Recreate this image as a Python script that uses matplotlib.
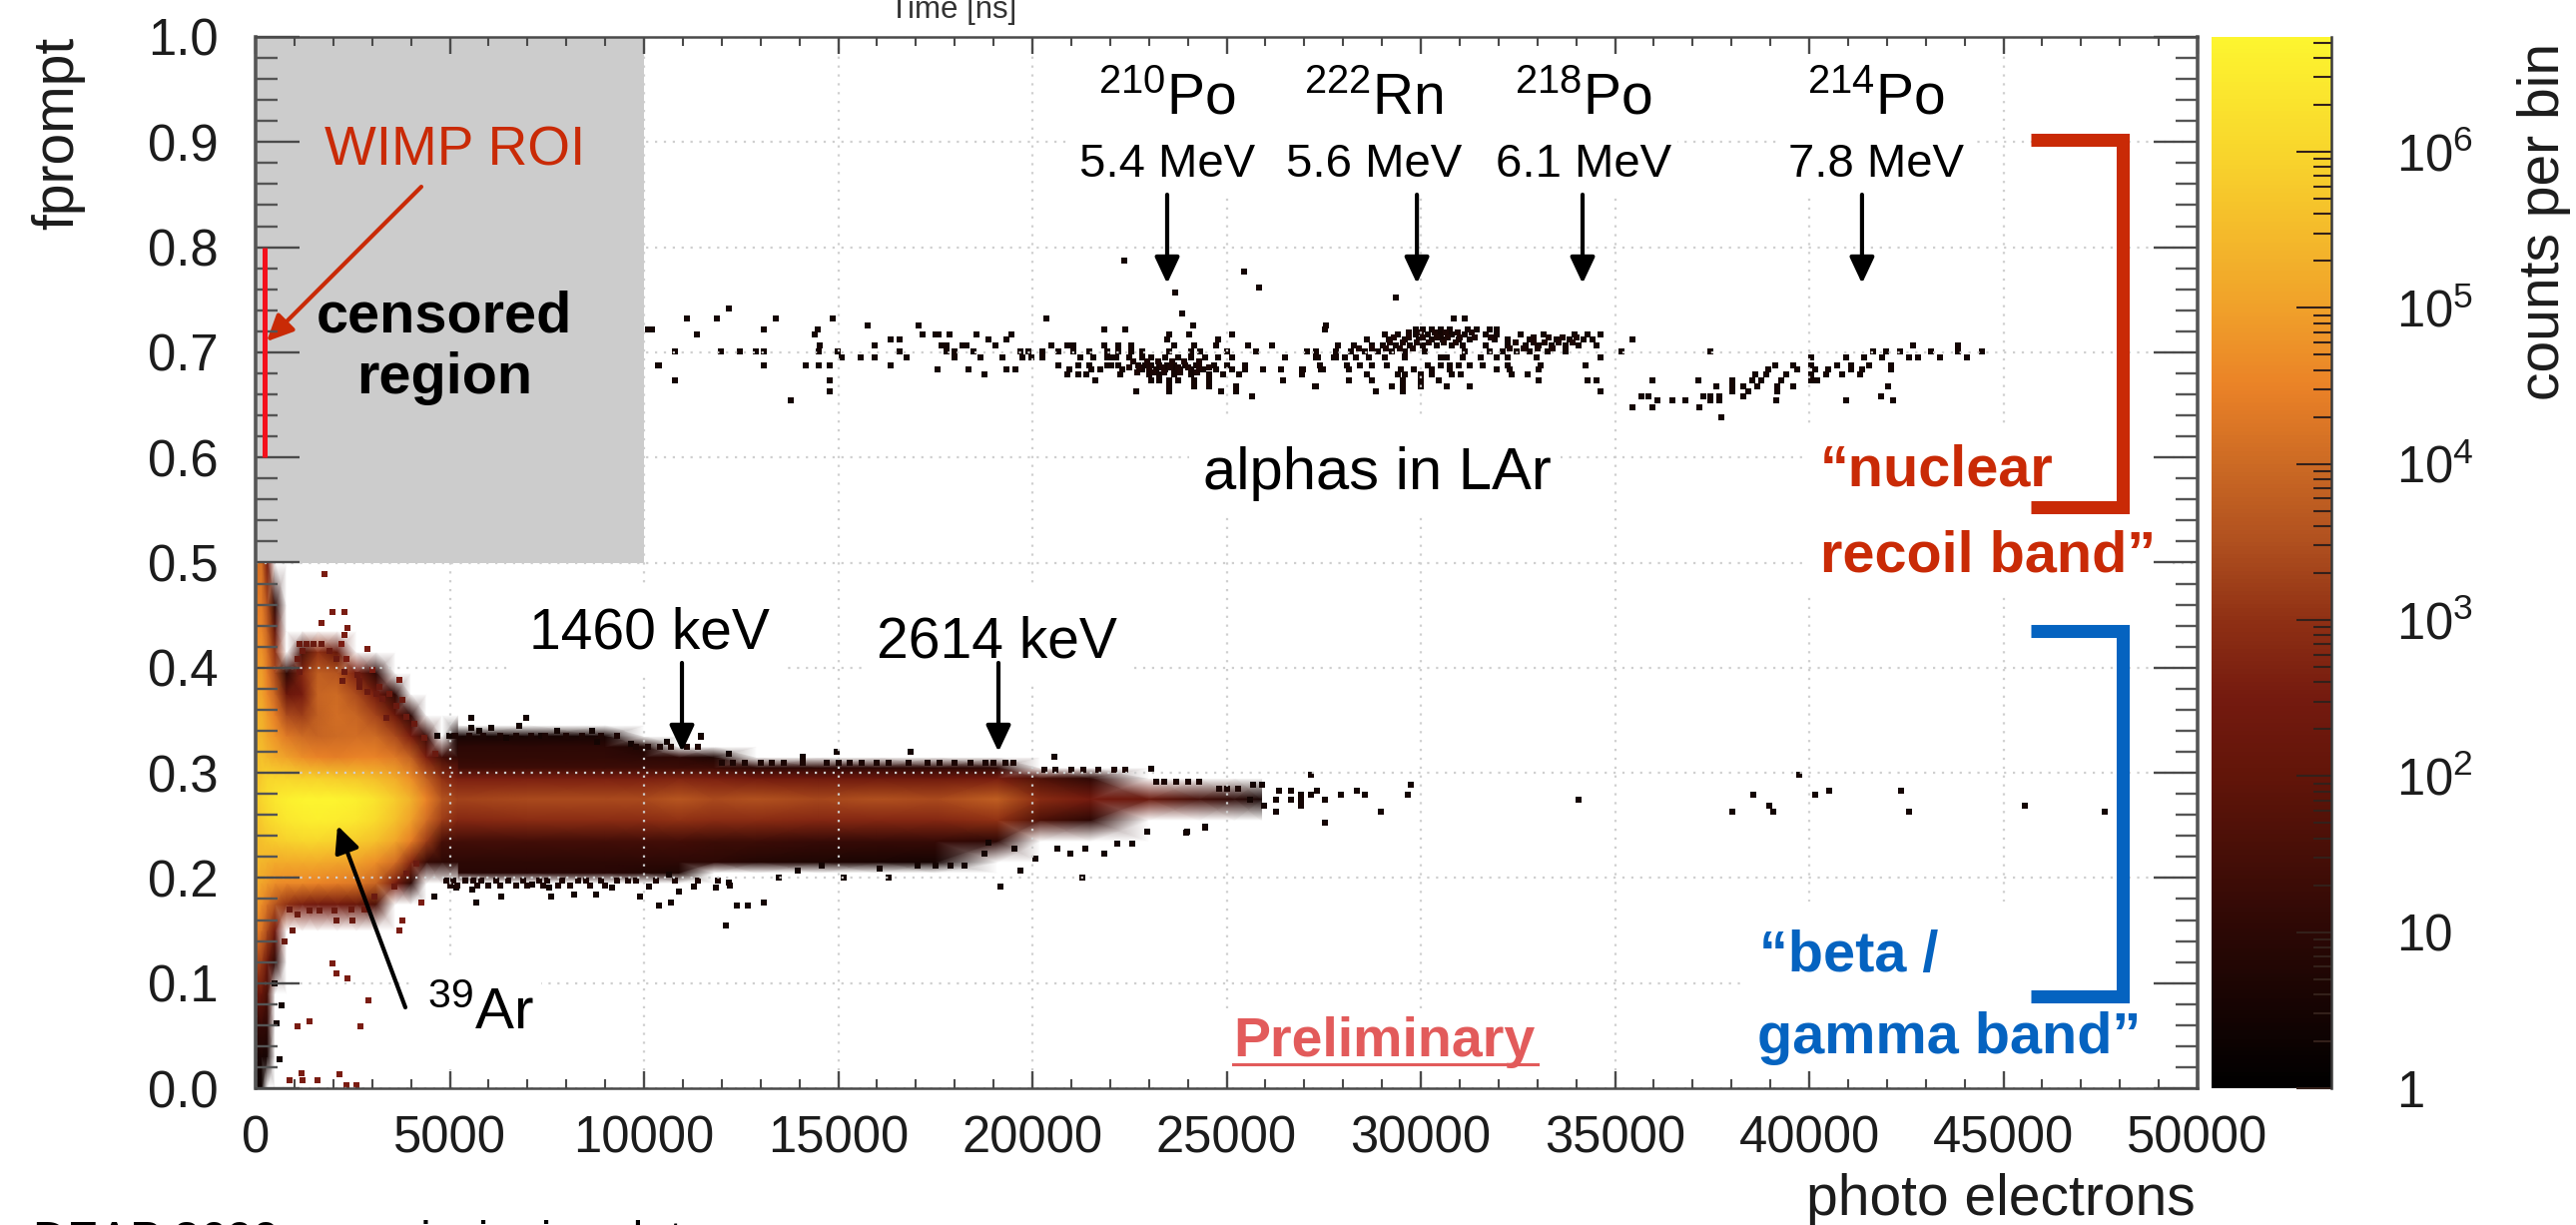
import numpy as np
import matplotlib
matplotlib.use("Agg")
import matplotlib.pyplot as plt
from matplotlib.colors import LinearSegmentedColormap, LogNorm
from matplotlib.cm import ScalarMappable
from matplotlib.ticker import LogLocator, MultipleLocator, NullFormatter

N = np.nan

# log10(counts per bin) on a coarse grid: the 39Ar blob
grid_pe_low = [0, 150, 300, 500, 800, 1200, 1600, 2100, 2600, 3100, 3600, 4000, 4400, 4800, 5200]
grid_fprompt_low = [0, .03, .06, .09, .12, .15, .175, .195, .215, .235, .255, .275, .295, .315, .335, .355, .375, .395, .415, .435, .46, .5]
log_counts_low = [
    [.3, .3, N, N, N, N, N, N, N, N, N, N, N, N, N],
    [.5, .6, .5, N, N, N, N, N, N, N, N, N, N, N, N],
    [1.0, 1.2, 1.0, N, N, N, N, N, N, N, N, N, N, N, N],
    [2.2, 2.2, 1.5, N, N, N, N, N, N, N, N, N, N, N, N],
    [3.4, 3.2, 2.2, 1.0, N, N, N, N, N, N, N, N, N, N, N],
    [4.4, 4.2, 3.4, 2.4, N, N, N, N, N, N, N, N, N, N, N],
    [4.9, 4.7, 4.2, 3.6, 3.0, 2.6, 2.4, 2.4, 2.2, 1.6, N, N, N, N, N],
    [5.2, 5.1, 4.9, 4.7, 4.6, 4.6, 4.5, 4.4, 4.3, 3.9, 2.5, 1.0, N, N, N],
    [5.4, 5.4, 5.3, 5.2, 5.2, 5.2, 5.2, 5.1, 5.0, 4.7, 4.1, 2.8, 1.2, 1.0, 1.0],
    [5.5, 5.6, 5.7, 5.8, 5.9, 6.0, 6.0, 5.9, 5.8, 5.6, 5.1, 4.4, 3.2, 1.5, 1.4],
    [5.6, 5.8, 6.0, 6.2, 6.4, 6.5, 6.6, 6.5, 6.4, 6.1, 5.6, 5.0, 4.1, 3.2, 2.8],
    [5.7, 6.0, 6.2, 6.4, 6.6, 6.7, 6.7, 6.7, 6.6, 6.3, 5.8, 5.3, 4.5, 3.6, 3.3],
    [5.6, 5.8, 6.0, 6.0, 6.0, 5.9, 5.9, 5.8, 5.7, 5.5, 5.2, 4.7, 3.8, 3.0, 2.6],
    [5.5, 5.6, 5.4, 5.2, 5.0, 4.7, 4.5, 4.4, 4.5, 4.5, 4.3, 3.8, 2.6, 1.4, 1.1],
    [5.3, 5.4, 5.1, 4.8, 4.3, 4.0, 3.9, 4.0, 4.1, 4.0, 3.4, 2.5, 1.2, N, .5],
    [5.2, 5.3, 4.9, 4.4, 3.4, 3.2, 3.8, 4.1, 3.9, 3.3, 2.2, 1.0, N, N, N],
    [5.0, 5.1, 4.6, 3.9, 2.2, 2.5, 3.9, 4.0, 3.4, 2.4, 1.0, N, N, N, N],
    [4.8, 5.0, 4.4, 3.4, 1.0, 2.8, 3.8, 3.6, 2.6, 1.0, N, N, N, N, N],
    [4.6, 4.8, 4.2, 3.0, N, 1.5, 3.0, 2.0, N, N, N, N, N, N, N],
    [4.5, 4.6, 3.9, 2.0, N, N, N, N, N, N, N, N, N, N, N],
    [4.3, 4.4, 3.5, 1.0, N, N, N, N, N, N, N, N, N, N, N],
    [4.0, 4.2, 2.5, N, N, N, N, N, N, N, N, N, N, N, N],
]

# same for the gamma band above 5000 photo electrons
grid_pe_high = [5200, 7000, 9000, 10000, 10900, 11800, 12900, 14500, 16000, 17500, 19100, 20200, 21500, 23000, 24300, 25200, 25900]
grid_fprompt_high = [.195, .205, .215, .235, .255, .275, .295, .305, .315, .325, .335, .345]
log_counts_high = [
    [N, N, N, N, N, N, N, N, N, N, N, N, N, N, N, N, N],
    [.9, .9, .9, .8, .7, N, N, N, N, N, N, N, N, N, N, N, N],
    [1.0, 1.0, 1.0, 1.0, 1.0, 1.0, .8, .7, .6, .5, N, N, N, N, N, N, N],
    [1.4, 1.4, 1.4, 1.4, 1.4, 1.3, 1.3, 1.2, 1.2, 1.2, 1.0, N, N, N, N, N, N],
    [2.8, 2.9, 2.9, 2.9, 3.0, 2.9, 2.9, 2.8, 2.8, 2.8, 3.0, 1.6, 1.0, N, N, N, N],
    [3.3, 3.4, 3.4, 3.4, 3.65, 3.4, 3.55, 3.35, 3.5, 3.4, 3.8, 2.9, 2.5, 2.2, 1.4, 1.0, .5],
    [2.6, 2.6, 2.6, 2.6, 2.7, 2.6, 2.4, 2.3, 2.3, 2.3, 2.5, 1.6, 1.0, N, N, N, N],
    [1.3, 1.3, 1.3, 1.3, 1.3, 1.3, 1.0, 1.0, 1.0, 1.0, 1.0, N, N, N, N, N, N],
    [1.1, 1.1, 1.1, 1.0, 1.0, .7, N, N, N, N, N, N, N, N, N, N, N],
    [1.0, 1.0, 1.0, .7, N, N, N, N, N, N, N, N, N, N, N, N, N],
    [.5, .5, .5, N, N, N, N, N, N, N, N, N, N, N, N, N, N],
    [N, N, N, N, N, N, N, N, N, N, N, N, N, N, N, N, N],
]

# single filled bins: alpha band, row by row in fprompt
alpha_rows = [.787, .777, .762, .757, .752, .742, .737, .732, .726, .722, .717, .712, .707, .701, .695, .688, .684, .679, .673, .668, .663, .658, .654, .648, .638]
alpha_pe = [
    [22370], [25450], [25840], [23680], [29360], [12190], [23860],
    [11100, 11880, 13400, 14860, 20370, 30850, 31140],
    [15760, 17065, 24130, 27550],
    [10100, 10215, 13080, 14480, 21860, 22380, 27540, 29880, 30050, 30280, 30510, 30740, 31200, 31430, 31770, 31950],
    [11360, 14400, 17160, 17500, 17580, 17870, 18570, 19450, 23530, 24040, 25130, 29080, 29420, 29880, 30170, 30510, 30800, 31140, 31660, 31950, 32580, 33150, 33950, 34300, 34640],
    [16350, 16580, 18880, 19340, 23470, 24790, 28620, 29190, 29590, 29940, 30280, 30570, 30970, 31260, 31890, 32230, 32810, 33490, 33840, 34180, 34410, 35445],
    [14520, 15950, 17670, 17790, 18190, 18300, 19050, 20490, 20890, 21060, 21860, 22210, 22550, 23640, 24160, 24730, 25540, 26170, 27870, 28270, 28730, 29020, 29360, 29710, 30050, 30400, 30800, 31090, 31660, 32230, 32690, 33030, 33380, 33720, 34070, 34530, 42680, 43820],
    [10790, 11970, 12480, 12880, 13080, 14500, 14980, 16580, 17790, 17985, 18480, 19680, 19910, 20260, 20660, 21060, 21460, 21920, 22210, 22550, 22840, 23530, 24100, 24330, 25020, 25760, 27080, 27300, 27810, 28210, 28560, 28900, 29250, 29590, 30110, 31140, 31770, 32120, 32460, 32810, 33260, 33720, 35160, 37450, 41640, 41990, 42330, 43130, 43820, 44450],
    [15090, 15590, 15950, 16760, 17985, 18670, 19220, 19740, 19970, 20260, 21230, 21580, 21920, 22040, 22150, 22490, 22840, 23070, 23410, 23760, 24100, 24450, 24790, 25130, 26510, 27310, 27350, 27770, 27810, 28040, 28330, 28670, 29080, 29590, 30510, 30680, 31090, 31540, 31950, 32230, 32980, 34640, 40040, 40950, 41410, 41870, 42560, 42790, 43360, 44050],
    [10390, 10360, 13080, 14175, 14500, 14770, 16350, 20660, 21170, 21460, 21920, 22040, 22210, 22720, 22900, 23070, 23260, 23470, 23640, 23930, 24220, 24670, 25020, 25480, 27410, 28100, 28440, 28730, 29130, 30170, 30510, 30740, 30970, 31260, 31600, 32230, 33090, 34240, 39120, 39580, 40040, 40720, 41070, 41530, 42100],
    [17560, 18360, 19340, 19570, 20940, 21520, 21750, 22320, 22840, 23000, 23180, 23410, 23640, 23800, 24100, 24390, 24730, 25130, 25480, 25940, 26400, 26970, 26950, 27430, 27470, 28160, 29480, 29820, 30280, 30740, 31950, 32290, 33030, 38950, 39690, 40150, 40500, 41070, 41360, 42100],
    [18770, 20890, 21170, 21400, 22260, 23000, 23260, 23640, 24100, 24560, 24900, 25310, 26950, 28620, 29420, 29590, 29990, 30280, 30800, 31030, 32350, 32750, 38600, 38890, 39400, 40040, 40440, 40840, 41300],
    [10790, 14770, 21630, 23070, 23260, 23530, 23760, 24160, 24560, 26450, 28160, 28730, 29540, 29990, 30450, 33030, 34300, 34530, 35960, 37140, 38030, 38540, 38770, 39290, 40040, 40210],
    [23530, 24160, 24560, 25250, 27310, 27270, 29250, 29540, 29990, 30680, 31260, 37620, 38030, 38310, 38660, 39180, 39580, 42040],
    [14770, 22670, 23530, 24850, 25250, 28850, 29540, 34640, 38030, 38430, 39180],
    [25650, 35670, 35850, 37280, 37450, 37680, 38310, 41850],
    [13770, 36080, 36480, 36820, 37450, 37680, 39140, 40950, 42160],
    [35445, 35960, 37170],
    [37740],
]

# filled-in rows where the alpha bins merge into solid patches
dense_rows = [.719, .714, .709, .704, .691, .686, .681]
dense_pe = [
    [29700, 30000, 30350, 30650, 30950, 31300],
    [29300, 29700, 30050, 30400, 30700, 31000, 31400, 31800, 32900, 33300, 33650, 34000],
    [29200, 29550, 29900, 30200, 30600, 30900, 32450, 32900, 33200, 33550, 33900],
    [28400, 28750, 29100, 29450, 29800, 32300, 32650, 33000, 33400],
    [22600, 22950, 23250, 23600, 23900, 24300],
    [22500, 22750, 23000, 23350, 23550, 23750, 24000, 24300, 24550],
    [22700, 23100, 23400, 23800, 24250],
]

# single filled bins around the gamma band
gamma_pe = [
    5540, 6960, 5540, 5760, 6060, 6790, 7770, 8670, 4690, 7340, 10600, 11460, 4990, 6440, 8800, 9660, 12180,
    5670, 6320, 7600, 8200, 8760, 9910, 10690, 10380, 12100, 12400, 4600, 10900, 11290, 7560, 5590, 5160, 7130, 9190, 10130, 12190, 11840, 10640,
    11470, 14970, 14080, 16870, 20560, 23060,
    15140, 16060, 16290, 17040, 17500, 17900, 18260, 18760, 19530, 18870, 19680, 19180, 20080, 21280, 20650, 20970, 21370, 21860, 22180, 22570, 22950, 23980, 24460, 13080, 12390, 12680, 13960, 13480, 14570, 12220,
    27160, 26340, 26670, 27160, 26920, 26920, 26920, 26260, 26670, 26260, 27330, 27540, 27540, 27950, 28360, 28560, 28970, 29740, 29670, 34050, 38030, 38560, 38970, 39080, 39740, 40160, 40520, 42360, 42570, 45560, 47620, 25970, 25600, 25690, 25900, 23960, 24460,
    620, 530, 490, 660,
]
gamma_fprompt = [
    .352, .352, .343, .34, .343, .345, .34, .34, .335, .335, .33, .335, .335, .333, .33, .328, .318,
    .177, .182, .182, .184, .184, .182, .177, .174, .155, .174, .182, .187, .192, .191, .189, .191, .194, .191, .192, .196, .191, .203,
    .334, .32, .315, .32, .315, .304,
    .2, .209, .2, .212, .212, .212, .212, .223, .228, .234, .207, .192, .218, .2, .228, .223, .228, .223, .233, .233, .244, .244, .249, .177, .174, .174, .207, .2, .212, .193,
    .298, .283, .283, .279, .279, .274, .269, .274, .274, .263, .283, .274, .253, .279, .283, .279, .263, .289, .279, .274, .263, .279, .269, .263, .298, .279, .283, .283, .263, .269, .263, .269, .274, .289, .289, .243, .248,
    .028, .062, .1, .079,
]

# jagged rim of the band
rim_rows = [.335, .325, .31, .303, .292, .285, .198, .193]
rim_pe = [
    [5150, 5500, 5850, 6300, 6700, 7100, 7450, 8000, 8400, 8900, 9300],
    [9800, 10100, 10400, 10700, 11100, 11400],
    [12000, 12300, 12600, 13000, 13300, 13600, 14100, 14700, 15000, 15300, 15600, 16000, 16300, 16800, 17300, 17600, 18000, 18400, 18800, 19000, 19300, 19500],
    [20300, 20600, 21000, 21300, 21700, 22100, 22400],
    [23200, 23400, 23700, 24000, 24300],
    [24800, 25000, 25300],
    [4900, 5100, 5400, 5600, 5800, 6200, 6500, 6900, 7300, 7500, 7900, 8300, 8500, 8900, 9300, 9600, 9800, 10300, 10800, 11400, 11900],
    [5000, 5200, 5700, 6000, 6300, 6700, 7000, 7400, 7800, 8100, 8600, 9000],
]

# sparse dark red bins near the 39Ar blob
sparse_pe = [1770, 1970, 2290, 1690, 2370, 2290, 2200, 2890, 2330, 3020, 3700, 4260, 3790, 3690, 1990, 2070, 2370, 2910, 1390, 1090, 2690, 1170, 1220, 1600, 2160, 880, 2330, 2590]
sparse_fprompt = [.489, .453, .453, .443, .438, .431, .423, .418, .408, .398, .388, .177, .16, .15, .119, .109, .104, .084, .064, .059, .059, .014, .008, .008, .013, .008, .003, .003]

# dark red bins along the edge of the blob
blob_rim_pe = [1130, 1300, 1500, 1690, 1220, 1900, 1090, 2070, 1130, 2290, 2630, 2240, 2670, 3190, 2670, 2890, 3100, 3440, 3270, 3790, 3620, 3360, 3870, 4090, 4350, 4640,
               880, 1090, 1390, 1650, 2030, 2460, 2800, 3060, 3570, 3870, 4130, 960, 745, 2070, 2490]
blob_rim_fprompt = [.423, .423, .423, .423, .416, .416, .408, .408, .396, .396, .393, .387, .387, .382, .382, .377, .375, .375, .37, .369, .364, .352, .353, .347, .333, .318,
                    .17, .165, .169, .169, .169, .17, .17, .182, .192, .204, .214, .15, .14, .16, .16]

isotopes = [r"$^{210}$Po", r"$^{222}$Rn", r"$^{218}$Po", r"$^{214}$Po"]
isotope_energy = ["5.4 MeV", "5.6 MeV", "6.1 MeV", "7.8 MeV"]
isotope_label_x = [23470, 28790, 34180, 41710]
isotope_arrow_x = [23470, 29900, 34165, 41360]
cbar_ticks = [1, 1e1, 1e2, 1e3, 1e4, 1e5, 1e6]
cbar_labels = ["1", "10", r"$\mathregular{10^{2}}$", r"$\mathregular{10^{3}}$", r"$\mathregular{10^{4}}$", r"$\mathregular{10^{5}}$", r"$\mathregular{10^{6}}$"]

# white boxes that the slide put under its annotations (x0, x1, y0, y1)
slide_boxes = [
    (20870, 36610, .85, 1), (39180, 44190, .85, 1), (39897, 49203, .47, .627),
    (38277, 48946, .014, .178), (6607, 13600, .391, .4805), (15656, 22596, .3846, .4805),
    (24036, 33600, .546, .636), (24910, 33265, .014, .075), (4036, 7352, .018, .1235),
]

RED = "#c92a06"
BLUE = "#0563c0"

plt.rcParams["font.family"] = ["Liberation Sans", "DejaVu Sans"]
plt.rcParams["mathtext.default"] = "regular"

W, H = 2580.0, 1227.0
fig = plt.figure(figsize=(W / 100, H / 100), dpi=100)
pos = [256 / W, (H - 1090) / H, 1945 / W, 1053 / H]
ax = fig.add_axes(pos, zorder=1)
frame = fig.add_axes(pos, facecolor="none", zorder=5)
cax = fig.add_axes([2215 / W, (H - 1090) / H, 120 / W, 1053 / H], zorder=5)

colors = [
    (0, "#000000"), (.148, "#2c0805"), (.297, "#621509"), (.37, "#741a0f"), (.445, "#8f3014"),
    (.52, "#b0501f"), (.594, "#cc6a24"), (.668, "#ea8227"), (.742, "#f0a02a"), (.89, "#f8d52c"), (1, "#fdf52f"),
]
cmap = LinearSegmentedColormap.from_list("counts", colors)
cmap.set_under("white")

vmax = 6.736
# empty bins go below vmin so they come out white
for pe, fp, table in [(grid_pe_high, grid_fprompt_high, log_counts_high), (grid_pe_low, grid_fprompt_low, log_counts_low)]:
    values = np.array(table)
    values = np.where(np.isnan(values), -1.0, values)
    ax.pcolormesh(pe, fp, values, cmap=cmap, vmin=0, vmax=vmax, shading="gouraud", zorder=1)

alpha_x = np.concatenate(alpha_pe)
alpha_y = np.repeat(alpha_rows, [len(r) for r in alpha_pe])
dense_x = np.concatenate(dense_pe)
dense_y = np.repeat(dense_rows, [len(r) for r in dense_pe])
rim_x = np.concatenate(rim_pe)
rim_y = np.repeat(rim_rows, [len(r) for r in rim_pe])
ax.scatter(alpha_x, alpha_y, s=20, marker="s", color="#140503", linewidths=0, zorder=1.5)
ax.scatter(dense_x, dense_y, s=20, marker="s", color="#1c0604", linewidths=0, zorder=1.5)
ax.scatter(gamma_pe, gamma_fprompt, s=20, marker="s", color="#140503", linewidths=0, zorder=1.5)
ax.scatter(rim_x, rim_y, s=20, marker="s", color="#1c0604", linewidths=0, zorder=1.5)
ax.scatter(sparse_pe, sparse_fprompt, s=20, marker="s", color="#7a1c12", linewidths=0, zorder=1.5)
ax.scatter(blob_rim_pe, blob_rim_fprompt, s=20, marker="s", color="#6a1a10", linewidths=0, zorder=1.5)

ax.set_xlim(0, 50000)
ax.set_ylim(0, 1)
ax.set_xticks(np.arange(0, 50001, 5000))
ax.set_yticks(np.arange(0, 1.01, .1))
ax.tick_params(length=0, labelbottom=False, labelleft=False)
ax.set_axisbelow(False)
ax.grid(True, color="#cfcfcf", linewidth=1.6, linestyle=(0, (1, 3)))
for s in ax.spines.values():
    s.set_visible(False)

for x0, x1, y0, y1 in slide_boxes:
    ax.fill_between([x0, x1], y0, y1, color="white", linewidth=0, zorder=2.6)
ax.fill_between([0, 10000], .5, 1, color="#cccccc", linewidth=0, zorder=3)

# frame and ticks sit above the grey box
frame.set_xlim(0, 50000)
frame.set_ylim(0, 1)
frame.xaxis.set_major_locator(MultipleLocator(5000))
frame.xaxis.set_minor_locator(MultipleLocator(1000))
frame.yaxis.set_major_locator(MultipleLocator(.1))
frame.yaxis.set_minor_locator(MultipleLocator(.02))
frame.tick_params(axis="x", which="major", direction="in", top=True, length=12, width=1.7, color="#4a4a4a",
                  labelsize=36.5, pad=19, labelcolor="#1c1c1c")
frame.tick_params(axis="x", which="minor", direction="in", top=True, length=6.5, width=1.5, color="#4a4a4a")
frame.tick_params(axis="y", which="major", direction="in", right=True, length=32, width=1.7, color="#4a4a4a",
                  labelsize=36.5, pad=27, labelcolor="#1c1c1c")
frame.tick_params(axis="y", which="minor", direction="in", right=True, length=16, width=1.7, color="#555555")
frame.yaxis.set_major_formatter(lambda v, p: f"{v:.1f}")
frame.spines["left"].set(linewidth=2.6, color="#555555")
frame.spines["right"].set(linewidth=2.6, color="#555555")
frame.spines["top"].set(linewidth=1.8, color="#4a4a4a", linestyle=(0, (1.5, 1)))
frame.spines["bottom"].set(linewidth=1.8, color="#4a4a4a", linestyle=(0, (1.5, 1)))
frame.plot([231, 231], [.6, .8], color="#f4101c", linewidth=3.6, solid_capstyle="butt")

cb = fig.colorbar(ScalarMappable(norm=LogNorm(1, 10 ** vmax), cmap=cmap), cax=cax)
cb.set_ticks(cbar_ticks, labels=cbar_labels)
cax.yaxis.set_minor_locator(LogLocator(base=10, subs=np.arange(2, 10), numticks=12))
cax.yaxis.set_minor_formatter(NullFormatter())
cax.tick_params(axis="y", which="major", direction="in", length=25, width=1.5, color="#33201a",
                labelsize=36.5, pad=47, labelcolor="#1c1c1c")
cax.tick_params(axis="y", which="minor", direction="in", length=13, width=1.5, color="#33201a")
cb.outline.set_visible(False)
cax.plot([1, 1], [0, 1], transform=cax.transAxes, color="#3a3a3a", linewidth=1.8, clip_on=False)


def arrow(x0, y0, x1, y1, color="black", lw=3.0):
    ax.annotate("", xy=(x1, y1), xytext=(x0, y0), zorder=7,
                arrowprops=dict(arrowstyle="-|>,head_length=1.6,head_width=.75", mutation_scale=10,
                                color=color, lw=lw, shrinkA=0, shrinkB=0))


for name, energy, lx, ax_x in zip(isotopes, isotope_energy, isotope_label_x, isotope_arrow_x):
    ax.text(lx, .926, name, fontsize=41, ha="center", va="baseline", zorder=7)
    ax.text(lx, .867, energy, fontsize=34, ha="center", va="baseline", zorder=7)
    arrow(ax_x, .85, ax_x, .7654)

ax.text(1774, .8784, "WIMP ROI", fontsize=39.5, color=RED, va="baseline", zorder=7)
arrow(4267, .8575, 283, .7103, color=RED)
ax.text(4859, .7189, "censored", fontsize=41.5, weight="bold", ha="center", va="baseline", zorder=7)
ax.text(4859, .6614, "region", fontsize=41.5, weight="bold", ha="center", va="baseline", zorder=7)
ax.text(24396, .570, "alphas in LAr", fontsize=43, va="baseline", zorder=7)
ax.text(7044, .418, "1460 keV", fontsize=41, va="baseline", zorder=7)
ax.text(15990, .410, "2614 keV", fontsize=41, va="baseline", zorder=7)
arrow(10977, .4046, 10977, .32)
arrow(19126, .4046, 19126, .32)
ax.text(4422, .056, r"$^{39}$Ar", fontsize=42, va="baseline", zorder=7)
arrow(3856, .0769, 2108, .2498)

ax.text(40283, .5727, "\u201cnuclear", fontsize=41.5, weight="bold", color=RED, va="baseline", zorder=7)
ax.text(40283, .491, "recoil band\u201d", fontsize=41.5, weight="bold", color=RED, va="baseline", zorder=7)
ax.text(38715, .111, "\u201cbeta /", fontsize=41.5, weight="bold", color=BLUE, va="baseline", zorder=7)
ax.text(38664, .0332, "gamma band\u201d", fontsize=41.5, weight="bold", color=BLUE, va="baseline", zorder=7)
ax.text(25167, .0304, "Preliminary", fontsize=40, weight="bold", color="#e25b5b", va="baseline", zorder=7)
ax.plot([25167, 33008], [.0228, .0228], color="#e25b5b", linewidth=2.2, zorder=7)

for color, y_top, y_bottom in [(RED, .902, .553), (BLUE, .4345, .0869)]:
    ax.plot([45707, 48072, 48072, 45707], [y_top, y_top, y_bottom, y_bottom], color=color, linewidth=9.4,
            solid_joinstyle="miter", solid_capstyle="butt", zorder=7)

fig.text(58 / W, 1 - 133 / H, "fprompt", fontsize=41, rotation=90, ha="center", va="center", color="#1c1c1c")
fig.text(2548 / W, 1 - 222 / H, "counts per bin", fontsize=41, rotation=90, ha="center", va="center", color="#1c1c1c")
fig.text(2199 / W, 1 - 1217 / H, "photo electrons", fontsize=41, ha="right", va="baseline", color="#1c1c1c")
fig.text(955 / W, 1 - 18 / H, "Time [ns]", fontsize=22.5, ha="center", va="baseline", color="#333333")
fig.text(33 / W, 1 - 1256 / H, "DEAP 3600 commissioning data", fontsize=34, va="baseline")

fig.savefig("out.png", dpi=100)
plt.close(fig)
